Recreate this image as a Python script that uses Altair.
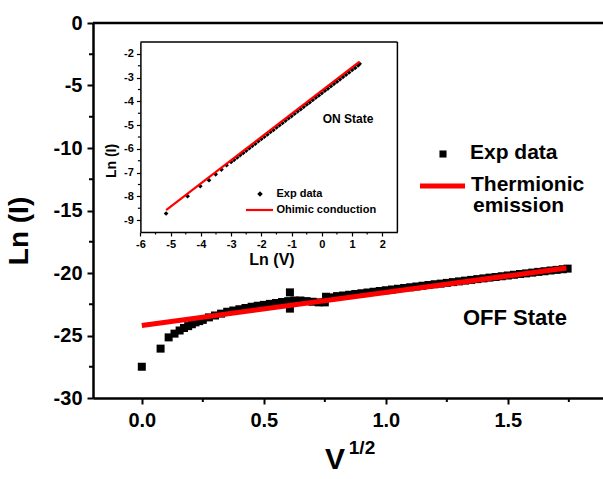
import altair as alt
import pandas as pd

FONT = "Liberation Sans"

# ---------------- data: OFF state (main plot) ----------------
off_x = [0.0, 0.077, 0.11, 0.134, 0.155, 0.173, 0.19, 0.205, 0.22, 0.235, 0.25,
         0.275, 0.3, 0.325, 0.35, 0.375, 0.4, 0.425, 0.45, 0.475, 0.5, 0.525,
         0.55, 0.575, 0.6, 0.607, 0.607, 0.625, 0.65, 0.675, 0.7, 0.725, 0.75,
         0.755, 0.775, 0.8, 0.825, 0.85, 0.875, 0.9, 0.925, 0.95, 0.975, 1.0,
         1.025, 1.05, 1.075, 1.1, 1.125, 1.15, 1.175, 1.2, 1.225, 1.25, 1.275,
         1.3, 1.325, 1.35, 1.375, 1.4, 1.425, 1.45, 1.475, 1.5, 1.525, 1.55,
         1.575, 1.6, 1.625, 1.65, 1.675, 1.7, 1.725, 1.745]
off_y = [-27.5, -26.05, -25.15, -24.85, -24.6, -24.4, -24.25, -24.1, -23.95, -23.85, -23.75,
         -23.55, -23.4, -23.25, -23.1, -23.0, -22.9, -22.8, -22.7, -22.62, -22.55, -22.47,
         -22.4, -22.32, -22.25, -21.55, -22.85, -22.2, -22.2, -22.25, -22.3, -22.35, -22.35,
         -21.9, -21.95, -21.85, -21.8, -21.74, -21.68, -21.62, -21.56, -21.5, -21.44, -21.38,
         -21.32, -21.26, -21.2, -21.14, -21.08, -21.02, -20.96, -20.9, -20.85, -20.79, -20.73,
         -20.67, -20.61, -20.55, -20.49, -20.43, -20.37, -20.32, -20.26, -20.2, -20.14, -20.08,
         -20.03, -19.97, -19.91, -19.86, -19.8, -19.75, -19.7, -19.65]
fit_x = [0.0, 1.74]
fit_y = [-24.2, -19.6]

# ---------------- data: ON state (inset) ----------------
on_x = [-5.15, -4.44, -4.02, -3.73, -3.51, -3.32, -3.15, -3.0, -2.9, -2.8, -2.7, -2.6,
        -2.5, -2.4, -2.3, -2.2, -2.1, -2.0, -1.9, -1.8, -1.7, -1.6, -1.5, -1.4, -1.3,
        -1.2, -1.1, -1.0, -0.9, -0.8, -0.7, -0.6, -0.5, -0.4, -0.3, -0.2, -0.1, 0.0,
        0.1, 0.2, 0.3, 0.4, 0.5, 0.6, 0.7, 0.8, 0.9, 1.0, 1.1, 1.2, 1.25]
on_y = [-8.72, -7.99, -7.57, -7.32, -7.07, -6.87, -6.69, -6.55, -6.46, -6.36, -6.26, -6.17,
        -6.07, -5.97, -5.87, -5.78, -5.68, -5.58, -5.49, -5.39, -5.29, -5.2, -5.1, -5.0, -4.91,
        -4.81, -4.71, -4.62, -4.52, -4.42, -4.33, -4.23, -4.13, -4.04, -3.94, -3.84, -3.75, -3.65,
        -3.55, -3.46, -3.36, -3.26, -3.17, -3.07, -2.97, -2.88, -2.78, -2.68, -2.59, -2.49, -2.42]
ohm_x = [-5.15, 1.25]
ohm_y = [-8.58, -2.33]

# ---------------- ticks ----------------
main_major_x = [0.0, 0.5, 1.0, 1.5]
main_minor_x = [0.25, 0.75, 1.25, 1.75]
main_major_y = [-30, -25, -20, -15, -10, -5, 0]
main_minor_y = [-27.5, -22.5, -17.5, -12.5, -7.5, -2.5]
in_major_x = [-6, -5, -4, -3, -2, -1, 0, 1, 2]
in_minor_x = [-5.5, -4.5, -3.5, -2.5, -1.5, -0.5, 0.5, 1.5]
in_major_y = [-9, -8, -7, -6, -5, -4, -3, -2]
in_minor_y = [-8.5, -7.5, -6.5, -5.5, -4.5, -3.5, -2.5]
in_dom_x = [-6, 2.5]
in_dom_y = [-9.5, -1.5]

W, H = 510, 375
# inset pixel box inside the plot area
IX0, IX1, IY0, IY1 = 47.4, 304.4, 19, 209

xs = alt.Scale(domain=[-0.2, 1.89], nice=False, zero=False)
ys = alt.Scale(domain=[-30, 0], nice=False, zero=False)
ixs = alt.Scale(domain=in_dom_x, range=[IX0, IX1], nice=False, zero=False)
iys = alt.Scale(domain=in_dom_y, range=[IY1, IY0], nice=False, zero=False)

ax_x = alt.Axis(values=main_major_x, labelExpr="format(datum.value, '.1f')", title=None,
                tickSize=6, tickWidth=2, tickColor="black", domainWidth=2.5, domainColor="black",
                labelFont=FONT, labelFontWeight="bold", labelFontSize=20, labelColor="black",
                labelPadding=6, labelFlush=False, labelOverlap=False, grid=False)
ax_y = alt.Axis(values=main_major_y, labelExpr="'' + datum.value", title=None,
                tickSize=6, tickWidth=2, tickColor="black", domainWidth=2.5, domainColor="black",
                labelFont=FONT, labelFontWeight="bold", labelFontSize=20, labelColor="black",
                labelPadding=5, labelFlush=False, labelOverlap=False, grid=False)
iax_x = alt.Axis(orient="bottom", offset=-(H - IY1), values=in_major_x,
                 labelExpr="'' + datum.value", title=None,
                 tickSize=4, tickWidth=1.2, tickColor="black", domainWidth=1.5, domainColor="black",
                 labelFont=FONT, labelFontWeight="bold", labelFontSize=11, labelColor="black",
                 labelPadding=2, labelFlush=False, labelOverlap=False, grid=False)
iax_y = alt.Axis(orient="left", offset=-IX0, values=in_major_y,
                 labelExpr="'' + datum.value", title=None,
                 tickSize=4, tickWidth=1.2, tickColor="black", domainWidth=1.5, domainColor="black",
                 labelFont=FONT, labelFontWeight="bold", labelFontSize=11, labelColor="black",
                 labelPadding=3, labelFlush=False, labelOverlap=False, grid=False)


def label(text, x, y, size, align="left", angle=0, baseline="middle"):
    kw = dict(text=text, font=FONT, fontWeight="bold", fontSize=size, align=align,
              baseline=baseline, color="black")
    if angle:
        kw["angle"] = angle
    return alt.Chart(pd.DataFrame({"t": [text]})).mark_text(**kw).encode(
        x=alt.value(x), y=alt.value(y))


# ---------------- main layers ----------------
df_off = pd.DataFrame({"v": off_x, "i": off_y})
df_fit = pd.DataFrame({"v": fit_x, "i": fit_y})

pts = alt.Chart(df_off).mark_square(size=64, color="black", opacity=1).encode(
    x=alt.X("v:Q", scale=xs, axis=ax_x), y=alt.Y("i:Q", scale=ys, axis=ax_y))
fit = alt.Chart(df_fit).mark_line(color="#ff0000", strokeWidth=5).encode(
    x=alt.X("v:Q", scale=xs, axis=ax_x), y=alt.Y("i:Q", scale=ys, axis=ax_y))
mnx = alt.Chart(pd.DataFrame({"v": main_minor_x})).mark_rule(color="black", strokeWidth=2).encode(
    x=alt.X("v:Q", scale=xs, axis=ax_x), y=alt.value(H), y2=alt.value(H + 4))
mny = alt.Chart(pd.DataFrame({"i": main_minor_y})).mark_rule(color="black", strokeWidth=2).encode(
    y=alt.Y("i:Q", scale=ys, axis=ax_y), x=alt.value(0), x2=alt.value(-4))
top = alt.Chart(pd.DataFrame({"i": [0]})).mark_rule(color="black", strokeWidth=2.5).encode(
    y=alt.Y("i:Q", scale=ys, axis=ax_y), x=alt.value(0), x2=alt.value(W))

leg_sq = alt.Chart(pd.DataFrame({"t": ["Exp data"]})).mark_square(
    size=50, color="black", opacity=1).encode(x=alt.value(350), y=alt.value(131))
leg_ln = alt.Chart(pd.DataFrame({"t": ["Thermionic emission"]})).mark_rule(
    color="#ff0000", strokeWidth=5).encode(x=alt.value(327), x2=alt.value(372), y=alt.value(163))

main = alt.layer(
    pts, fit, mnx, mny, top, leg_sq, leg_ln,
    label("Exp data", 377, 130, 21),
    label("Thermionic", 378, 162, 21),
    label("emission", 380, 183, 21),
    label("OFF State", 370, 295, 22),
    label("Ln (I)", -73, 208, 28, align="center", angle=270),
    label("V", 242, 446, 30, align="center", baseline="alphabetic"),
    label("1/2", 269, 431, 19, align="center", baseline="alphabetic"),
)

# ---------------- inset layers ----------------
df_on = pd.DataFrame({"lv": on_x, "li": on_y})
df_ohm = pd.DataFrame({"lv": ohm_x, "li": ohm_y})

on_pts = alt.Chart(df_on).mark_point(shape="diamond", filled=True, size=22, color="black",
                                     opacity=1).encode(
    x=alt.X("lv:Q", scale=ixs, axis=iax_x), y=alt.Y("li:Q", scale=iys, axis=iax_y))
ohm = alt.Chart(df_ohm).mark_line(color="#ff0000", strokeWidth=2.2).encode(
    x=alt.X("lv:Q", scale=ixs, axis=iax_x), y=alt.Y("li:Q", scale=iys, axis=iax_y))
frame_top = alt.Chart(pd.DataFrame({"li": [in_dom_y[1]]})).mark_rule(
    color="black", strokeWidth=1.5).encode(
    y=alt.Y("li:Q", scale=iys, axis=iax_y), x=alt.value(IX0), x2=alt.value(IX1))
frame_right = alt.Chart(pd.DataFrame({"lv": [in_dom_x[1]]})).mark_rule(
    color="black", strokeWidth=1.5).encode(
    x=alt.X("lv:Q", scale=ixs, axis=iax_x), y=alt.value(IY0), y2=alt.value(IY1))
imx = alt.Chart(pd.DataFrame({"lv": in_minor_x})).mark_rule(color="black", strokeWidth=1.2).encode(
    x=alt.X("lv:Q", scale=ixs, axis=iax_x), y=alt.value(IY1), y2=alt.value(IY1 + 2.5))
imy = alt.Chart(pd.DataFrame({"li": in_minor_y})).mark_rule(color="black", strokeWidth=1.2).encode(
    y=alt.Y("li:Q", scale=iys, axis=iax_y), x=alt.value(IX0), x2=alt.value(IX0 - 2.5))

ileg_pt = alt.Chart(pd.DataFrame({"t": ["Exp data"]})).mark_point(
    shape="diamond", filled=True, size=30, color="black", opacity=1).encode(
    x=alt.value(167), y=alt.value(171))
ileg_ln = alt.Chart(pd.DataFrame({"t": ["Ohimic conduction"]})).mark_rule(
    color="#ff0000", strokeWidth=2.2).encode(x=alt.value(153), x2=alt.value(180), y=alt.value(187))

inset = alt.layer(
    on_pts, ohm, frame_top, frame_right, imx, imy, ileg_pt, ileg_ln,
    label("Exp data", 183.5, 171, 11),
    label("Ohimic conduction", 183.5, 187, 11),
    label("ON State", 255, 96, 12, align="center"),
    label("Ln (V)", 179, 237, 16, align="center"),
    label("Ln (I)", 19, 138, 14, align="center", angle=270),
)

chart = alt.layer(main, inset).resolve_scale(
    x="independent", y="independent").resolve_axis(
    x="independent", y="independent").properties(
    width=W, height=H,
    autosize=alt.AutoSizeParams(type="none"),
    padding={"left": 93, "top": 23, "right": 0, "bottom": 81},
    background="white",
).configure_view(strokeWidth=0)

chart.save("out.html", embed_options={"renderer": "svg", "actions": False})
